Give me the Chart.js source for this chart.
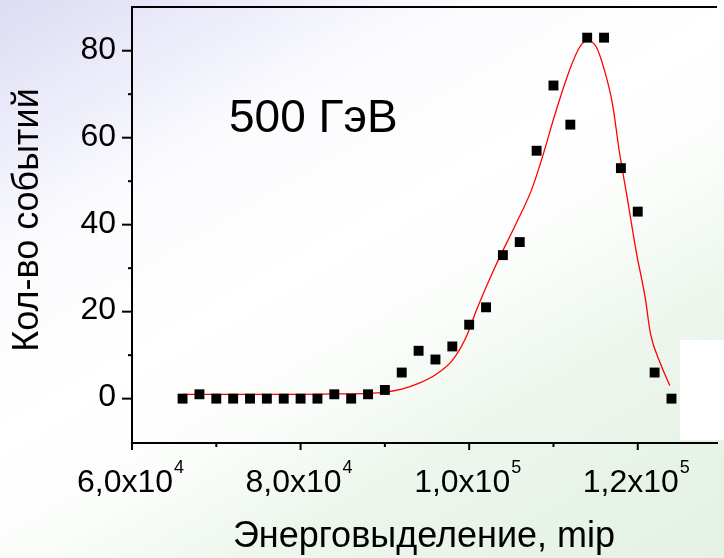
<!DOCTYPE html>
<html>
    <head>
        <script src="https://cdn.jsdelivr.net/npm/chart.js@4.4.0/dist/chart.umd.min.js"></script>
        <meta charset="utf-8">
        <title>500 ГэВ</title>
        <style>
            html, body {
                margin: 0;
                padding: 0;
            }
            body {
                width: 724px;
                height: 558px;
                overflow: hidden;
                position: relative;
                background: linear-gradient(150deg, #dcdcf4 0%, #ececfa 14%, #fbfbfe 27%, #ffffff 45%, #fbfdfb 58%, #edf6ed 72%, #e4f1e4 100%);
            }
            #patch {
                position: absolute;
                left: 680px;
                top: 340px;
                width: 44px;
                height: 100px;
                background: #ffffff;
            }
            #chart {
                position: absolute;
                left: 0;
                top: 0;
            }
        </style>
    </head>
    <body>
        <div id="patch"></div>
        <canvas id="chart" width="724" height="558"></canvas>
        <script>
            // measured events per energy bin
            const energy = [66000, 68000, 70000, 72000, 74000, 76000, 78000, 80000, 82000, 84000,
                            86000, 88000, 90000, 92000, 94000, 96000, 98000, 100000, 102000, 104000,
                            106000, 108000, 110000, 112000, 114000, 116000, 118000, 120000, 122000, 124000];
            const events = [0, 1, 0, 0, 0, 0, 0, 0, 0, 1,
                            0, 1, 2, 6, 11, 9, 12, 17, 21, 33,
                            36, 57, 72, 63, 83, 83, 53, 43, 6, 0];

            // fit curve
            const fitX = [66000, 70000, 75000, 80000, 85000, 88000, 90000, 92000, 94000, 96000,
                          98000, 99600, 101000, 103000, 105500, 107400, 108600, 110200, 112000, 113100,
                          114000, 115100, 116000, 117000, 117800, 118800, 119800, 120900, 121500, 122700, 123800];
            const fitY = [1.0, 1.0, 1.0, 1.0, 1.1, 1.2, 1.5, 2.2, 3.5, 5.5,
                          8.8, 14, 21, 30, 40, 48, 55, 65.5, 76, 80.8,
                          82.3, 80.8, 75.8, 67.8, 57, 45.6, 34, 23, 15, 8, 3];

            const xTickValues = [60000, 80000, 100000, 120000];
            const xTickBase = ["6,0x10", "8,0x10", "1,0x10", "1,2x10"];
            const xTickExp = ["4", "4", "5", "5"];
            const yTickValues = [0, 20, 40, 60, 80];

            const fontName = "'Liberation Sans', Arial, sans-serif";

            var axesPlugin = {
                id: "axesPlugin",
                afterDraw: function(chart) {
                    var ctx = chart.ctx;
                    var xs = chart.scales.x;
                    var ys = chart.scales.y;
                    var a = chart.chartArea;
                    ctx.save();
                    ctx.strokeStyle = "#000";
                    ctx.fillStyle = "#000";
                    ctx.lineWidth = 2;

                    // top frame line
                    ctx.beginPath();
                    ctx.moveTo(a.left - 1, a.top);
                    ctx.lineTo(a.right, a.top);
                    ctx.stroke();

                    // y ticks
                    for (var v = 0; v <= 80; v += 10) {
                        var py = ys.getPixelForValue(v);
                        var len = v % 20 == 0 ? 10 : 4;
                        ctx.beginPath();
                        ctx.moveTo(a.left - len, py);
                        ctx.lineTo(a.left, py);
                        ctx.stroke();
                    }

                    // x ticks
                    for (var v = 60000; v <= xs.max; v += 10000) {
                        var px = xs.getPixelForValue(v);
                        var len = v % 20000 == 0 ? 7 : 4;
                        ctx.beginPath();
                        ctx.moveTo(px, a.bottom);
                        ctx.lineTo(px, a.bottom + len);
                        ctx.stroke();
                    }

                    // y tick labels
                    ctx.font = "32px " + fontName;
                    ctx.textAlign = "right";
                    ctx.textBaseline = "middle";
                    for (var i = 0; i < yTickValues.length; i++) {
                        var py = ys.getPixelForValue(yTickValues[i]);
                        ctx.fillText(String(yTickValues[i]), a.left - 16, py - 1);
                    }

                    // x tick labels with exponent
                    ctx.textBaseline = "alphabetic";
                    ctx.textAlign = "left";
                    for (var i = 0; i < xTickValues.length; i++) {
                        var px = xs.getPixelForValue(xTickValues[i]);
                        ctx.font = "32px " + fontName;
                        var w1 = ctx.measureText(xTickBase[i]).width;
                        ctx.font = "18px " + fontName;
                        var w2 = ctx.measureText(xTickExp[i]).width;
                        var left = px - (w1 + w2) / 2 - 2;
                        ctx.font = "32px " + fontName;
                        ctx.fillText(xTickBase[i], left, 492);
                        ctx.font = "18px " + fontName;
                        ctx.fillText(xTickExp[i], left + w1 + 1, 473);
                    }

                    // axis titles
                    ctx.font = "36px " + fontName;
                    ctx.textAlign = "center";
                    ctx.fillText("Энерговыделение, mip", 424, 547);

                    ctx.save();
                    ctx.translate(38, 220);
                    ctx.rotate(-Math.PI / 2);
                    ctx.fillText("Кол-во событий", 0, 0);
                    ctx.restore();

                    // energy label
                    ctx.font = "46px " + fontName;
                    ctx.textAlign = "left";
                    ctx.fillText("500 ГэВ", 229, 132);

                    ctx.restore();
                }
            };

            var points = [];
            for (var i = 0; i < energy.length; i++) {
                points.push({x: energy[i], y: events[i]});
            }
            var fit = [];
            for (var i = 0; i < fitX.length; i++) {
                fit.push({x: fitX[i], y: fitY[i]});
            }

            var ctx = document.getElementById("chart").getContext("2d");
            var chart = new Chart(ctx, {
                type: "scatter",
                data: {
                    datasets: [
                        {
                            label: "data",
                            data: points,
                            pointStyle: "rect",
                            pointRadius: 7,
                            pointBorderWidth: 0,
                            backgroundColor: "#000",
                            borderColor: "#000",
                            showLine: false
                        },
                        {
                            label: "fit",
                            data: fit,
                            showLine: true,
                            borderColor: "#ff0000",
                            borderWidth: 1.3,
                            pointRadius: 0,
                            cubicInterpolationMode: "monotone",
                            fill: false
                        }
                    ]
                },
                options: {
                    responsive: false,
                    animation: false,
                    devicePixelRatio: 1,
                    layout: {
                        padding: {left: 0, top: 6, right: 0, bottom: 0}
                    },
                    plugins: {
                        legend: {display: false},
                        tooltip: {enabled: false}
                    },
                    scales: {
                        x: {
                            type: "linear",
                            min: 60000,
                            max: 129400,
                            grid: {display: false, drawTicks: false},
                            border: {display: true, color: "#000", width: 2},
                            ticks: {display: false},
                            afterFit: function(scale) {
                                scale.height = 115;
                            }
                        },
                        y: {
                            type: "linear",
                            min: -10.2,
                            max: 90.05,
                            grid: {display: false, drawTicks: false},
                            border: {display: true, color: "#000", width: 2},
                            ticks: {display: false},
                            afterFit: function(scale) {
                                scale.width = 132;
                            }
                        }
                    }
                },
                plugins: [axesPlugin]
            });
        </script>
    </body>
</html>
